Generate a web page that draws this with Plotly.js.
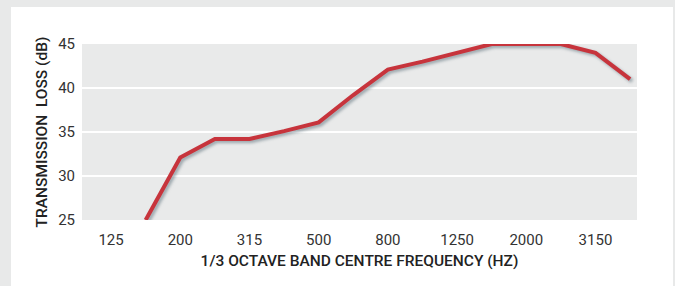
<!DOCTYPE html>
<html>
<head>
<meta charset="utf-8">
<script src="https://cdn.plot.ly/plotly-3.0.1.min.js"></script>
<style>
html,body{margin:0;padding:0;background:#e8e9e9;}
#wrap{position:absolute;left:11px;top:7px;width:662px;height:279px;background:#ffffff;}
#chart{position:absolute;left:0;top:0;width:675px;height:286px;}
.scatterlayer .js-line{filter:drop-shadow(2px 2px 1.5px rgba(90,110,120,0.55));}
</style>
</head>
<body>
<div id="wrap"></div>
<div id="chart"></div>
<script>
var frequencies = ["125","160","200","250","315","400","500","630","800","1000","1250","1600","2000","2500","3150","4000"];
var lossFreq = ["160","200","250","315","400","500","630","800","1000","1250","1600","2000","2500","3150","4000"];
var lossValues = [25, 32.1, 34.2, 34.2, 35.1, 36.1, 39.2, 42.1, 43.0, 44.0, 45.0, 45.0, 45.0, 44.0, 41.0];
var tickLabels = ["125","200","315","500","800","1250","2000","3150"];
var yTicks = [25, 30, 35, 40, 45];

var trace = {
  x: lossFreq,
  y: lossValues,
  type: 'scatter',
  mode: 'lines',
  line: {color: '#c7343c', width: 4, shape: 'linear'},
  hoverinfo: 'skip',
  cliponaxis: false
};

var layout = {
  width: 675, height: 286,
  paper_bgcolor: 'rgba(0,0,0,0)',
  plot_bgcolor: '#e9eaea',
  margin: {l: 82, r: 38, t: 44, b: 66},
  showlegend: false,
  font: {family: 'Roboto, sans-serif', color: '#333333', size: 15},
  xaxis: {
    type: 'category',
    categoryorder: 'array',
    categoryarray: frequencies,
    range: [-0.84, 15.2],
    tickvals: tickLabels,
    ticktext: tickLabels,
    showgrid: false,
    zeroline: false,
    showline: false,
    ticks: '',
    ticklen: 0,
    ticklabelstandoff: 9,
    tickfont: {size: 15, color: '#333333'},
    title: {text: '1/3 OCTAVE BAND CENTRE FREQUENCY (HZ)', font: {size: 15.5, color: '#222222', weight: 500}, standoff: 7},
    fixedrange: true
  },
  yaxis: {
    range: [25, 45],
    tickvals: yTicks,
    ticktext: yTicks.map(String),
    showgrid: true,
    gridcolor: '#ffffff',
    gridwidth: 2,
    zeroline: false,
    showline: false,
    ticks: '',
    ticklabelstandoff: 6,
    tickfont: {size: 15, color: '#333333'},
    title: {text: 'TRANSMISSION&nbsp; LOSS (dB)', font: {size: 15.5, color: '#222222', weight: 500}, standoff: 6},
    fixedrange: true
  }
};

Plotly.newPlot('chart', [trace], layout, {displayModeBar: false, staticPlot: true});
</script>
</body>
</html>
